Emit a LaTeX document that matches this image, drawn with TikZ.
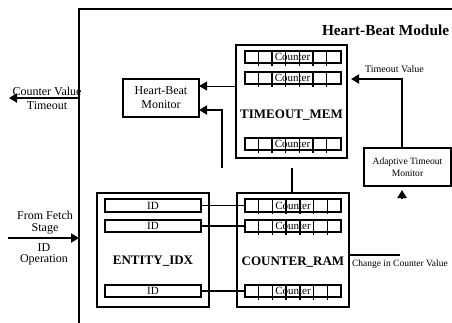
\documentclass[tikz,border=0pt]{standalone}
\usepackage{fontspec}
\setmainfont{Liberation Serif}
\usetikzlibrary{arrows.meta,calc}

\newcommand\szf[1]{\fontsize{#1}{#1}\selectfont}
% a memory row split into seven cells, with a caption on top
\newcommand\cellrowat[4]{% name, x, y, caption
  \node[cellrow] (#1) at (#2,#3) {};
  \foreach \k in {1,...,6}
    \draw[divider] ($(#1.north west)!\k/7!(#1.north east)$) -- ++(0,15);
  \node[font=\szf{11}] (#1t) at (#1.center) {#4};
}
\newcommand\idrowat[3]{% name, x, y
  \node[cellrow, font=\szf{11}] (#1) at (#2,#3) {ID};
}

\begin{document}
\begin{tikzpicture}[x=1pt,y=-1pt,
  every node/.style={inner sep=0pt, outer sep=0pt},
  blk/.style={draw, line width=2.2pt},
  cellrow/.style={draw, line width=2pt, minimum width=96pt, minimum height=12.5pt},
  divider/.style={line width=1.4pt},
  conn/.style={line width=2pt},
  thinconn/.style={line width=1pt},
  idlink/.style={line width=1.6pt},
  modline/.style={line width=2.7pt},
  >={Triangle[length=8pt,width=9pt]}]
\useasboundingbox (0,0) rectangle (452,322);
\clip (0,0) rectangle (452,322);

% module outline (only its top-left corner lies in view)
\coordinate (modNW) at (79,9);
\draw[modline] (modNW |- 0,330) -- (modNW) -- (470,9);
\node[font=\bfseries\szf{15.3}, anchor=base west] (modlbl) at (322,35) {Heart-Beat Module};

% functional blocks
\node[blk, minimum width=76pt, minimum height=38pt, align=center, font=\fontsize{12}{14}\selectfont] (hbm) at (161,98) {Heart-Beat\\Monitor};
\node[blk, minimum width=111pt, minimum height=113pt] (tmem) at (291.5,101.5) {};
\node[blk, minimum width=112pt, minimum height=114pt] (cram) at (293,250) {};
\node[blk, minimum width=112pt, minimum height=114pt] (eidx) at (153,250) {};
\node[blk, minimum width=87pt, minimum height=38pt, align=center, font=\fontsize{9.6}{12}\selectfont] (atm) at (407.5,167) {Adaptive Timeout\\Monitor};

\node[font=\bfseries\szf{13}] (tmemlbl) at ($(tmem.center)+(0,13.5)$) {TIMEOUT\_MEM};
\node[font=\bfseries\szf{13}] (cramlbl) at ($(cram.center)+(0,12)$) {COUNTER\_RAM};
\node[font=\bfseries\szf{13}] (eidxlbl) at ($(eidx.center)+(0,11)$) {ENTITY\_IDX};

% rows of TIMEOUT_MEM
\cellrowat{tm1}{292.5}{57}{Counter}
\cellrowat{tm2}{292.5}{78}{Counter}
\cellrowat{tm3}{292.5}{144}{Counter}
% rows of COUNTER_RAM
\cellrowat{cr1}{293}{205.5}{Counter}
\cellrowat{cr2}{293}{226}{Counter}
\cellrowat{cr3}{293}{291}{Counter}
% rows of ENTITY_IDX
\idrowat{id1}{153}{205.5}
\idrowat{id2}{153}{226}
\idrowat{id3}{153}{291}

% index entries to counters
\draw[idlink] (id1) -- (cr1);
\draw[idlink] (id2) -- (cr2);
\draw[idlink] (id3) -- (cr3);

% paths into the Heart-Beat Monitor
\coordinate (hbA) at ($(hbm.east)+(0,-12)$);
\coordinate (hbB) at ($(hbm.east)+(0,12)$);
\draw[thinconn,->] (tmem.west |- hbA) -- (hbA);
\coordinate (tapL) at (222,168);
\draw[conn,->] (tapL) |- (hbB);
\coordinate (tapR) at (292,168);
\draw[conn] (tapR) -- (tapR |- cram.north);

% timeout value from the adaptive monitor
\coordinate (atmTop) at ($(atm.north)+(-5.5,0)$);
\coordinate (tvIn) at ($(tmem.east)+(0,-22.5)$);
\draw[conn,->,shorten >=4pt] (atmTop) |- (tvIn);
\node[font=\szf{10}, anchor=base west] (tvlbl) at (365,72) {Timeout Value};
\coordinate (atmBot) at ($(atm.south)+(-5.5,0)$);
\coordinate (atmFeed) at ($(atm.south)+(-5.5,13)$);
\draw[conn,->,shorten >=4pt] (atmFeed) -- (atmBot);

% change in counter value
\coordinate (chg) at (400,255);
\draw[conn,shorten <=1pt] (cram.east |- chg) -- (chg);
\node[font=\szf{9.5}, anchor=base west] (chglbl) at (352,266) {Change in Counter Value};

% module outputs and inputs
\coordinate (outCV) at (9,98);
\draw[conn,->] (modNW |- outCV) -- (outCV);
\node[font=\szf{12}, anchor=base] (cvlbl) at (47,95) {Counter Value};
\node[font=\szf{12}, anchor=base] (tolbl) at (47,109) {Timeout};

\coordinate (inFS) at (8,238);
\draw[conn,->] (inFS) -- (modNW |- inFS);
\node[font=\szf{12}, anchor=base] (fflbl) at (45,219) {From Fetch};
\node[font=\szf{12}, anchor=base] (stlbl) at (45,231) {Stage};
\node[font=\szf{12}, anchor=base] (idlbl) at (44,251) {ID};
\node[font=\szf{12}, anchor=base] (oplbl) at (44,262) {Operation};
\end{tikzpicture}
\end{document}
